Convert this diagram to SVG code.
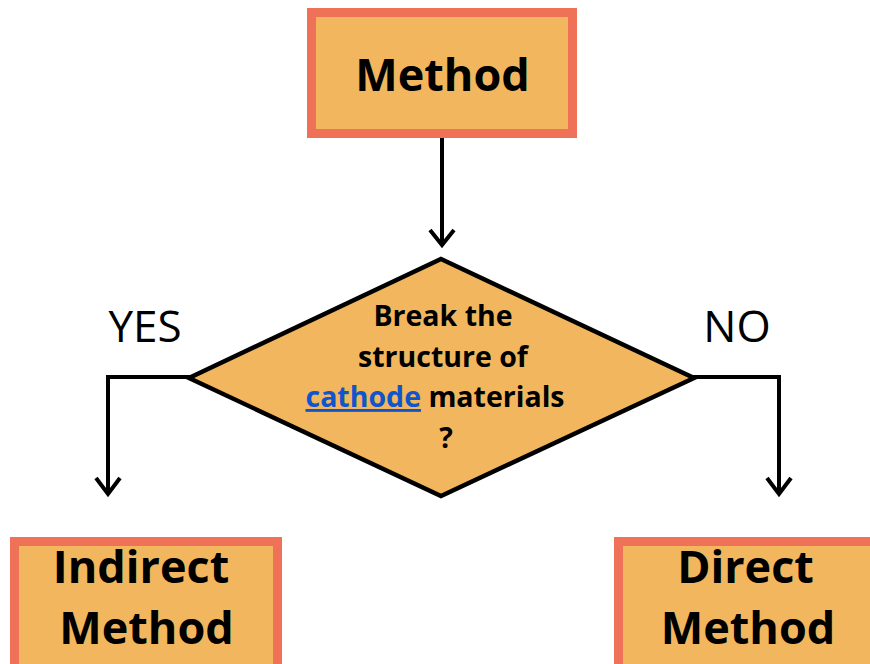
<svg xmlns="http://www.w3.org/2000/svg" width="870" height="664" viewBox="0 0 870 664">
<defs>
<style>
.box{fill:#F2B75E;stroke:#EE7158;stroke-width:9}
.dia{fill:#F2B75E;stroke:#000;stroke-width:4.5;stroke-linejoin:miter}
.big{font-family:"Open Sans","Noto Sans",sans-serif;font-weight:bold;font-size:45px;fill:#000;text-anchor:middle}
.q{font-family:"Open Sans","Noto Sans",sans-serif;font-weight:bold;font-size:28.5px;fill:#000;text-anchor:middle}
.lbl{font-family:"Open Sans","Noto Sans",sans-serif;font-size:44px;fill:#000;text-anchor:middle}
.link{fill:#1155CC;text-decoration:underline}
.con{fill:none;stroke:#000;stroke-width:4}
</style>
</defs>
<rect width="870" height="664" fill="#fff"/>
<g id="connectors">
<path class="con" d="M442 138 V244"/>
<path class="con" d="M430 230 L442 245 L454 230"/>
<path class="con" d="M190 377 H108 V493"/>
<path class="con" d="M96 478 L108 494 L120 478"/>
<path class="con" d="M693 377 H779 V493"/>
<path class="con" d="M767 478 L779 494 L791 478"/>
</g>
<g id="method">
<rect class="box" x="311.5" y="12.5" width="261" height="121"/>
<text class="big" x="442.5" y="91">Method</text>
</g>
<g id="decision">
<polygon class="dia" points="441,259 694,378 441,496 189,378"/>
<text class="q" x="443" y="326">Break the</text>
<text class="q" x="443" y="367">structure of</text>
<text class="q" x="435" y="407"><tspan class="link">cathode</tspan> materials</text>
<text class="q" x="446" y="448">?</text>
</g>
<g id="yes-label"><text class="lbl" x="145" y="342">YES</text></g>
<g id="no-label"><text class="lbl" x="737" y="342">NO</text></g>
<g id="indirect">
<rect class="box" x="14.5" y="541.5" width="263" height="130"/>
<text class="big" x="141" y="583">Indirect</text>
<text class="big" x="146.5" y="644">Method</text>
</g>
<g id="direct">
<rect class="box" x="618.5" y="541.5" width="263" height="130"/>
<text class="big" x="745.5" y="583">Direct</text>
<text class="big" x="748" y="644">Method</text>
</g>
</svg>
